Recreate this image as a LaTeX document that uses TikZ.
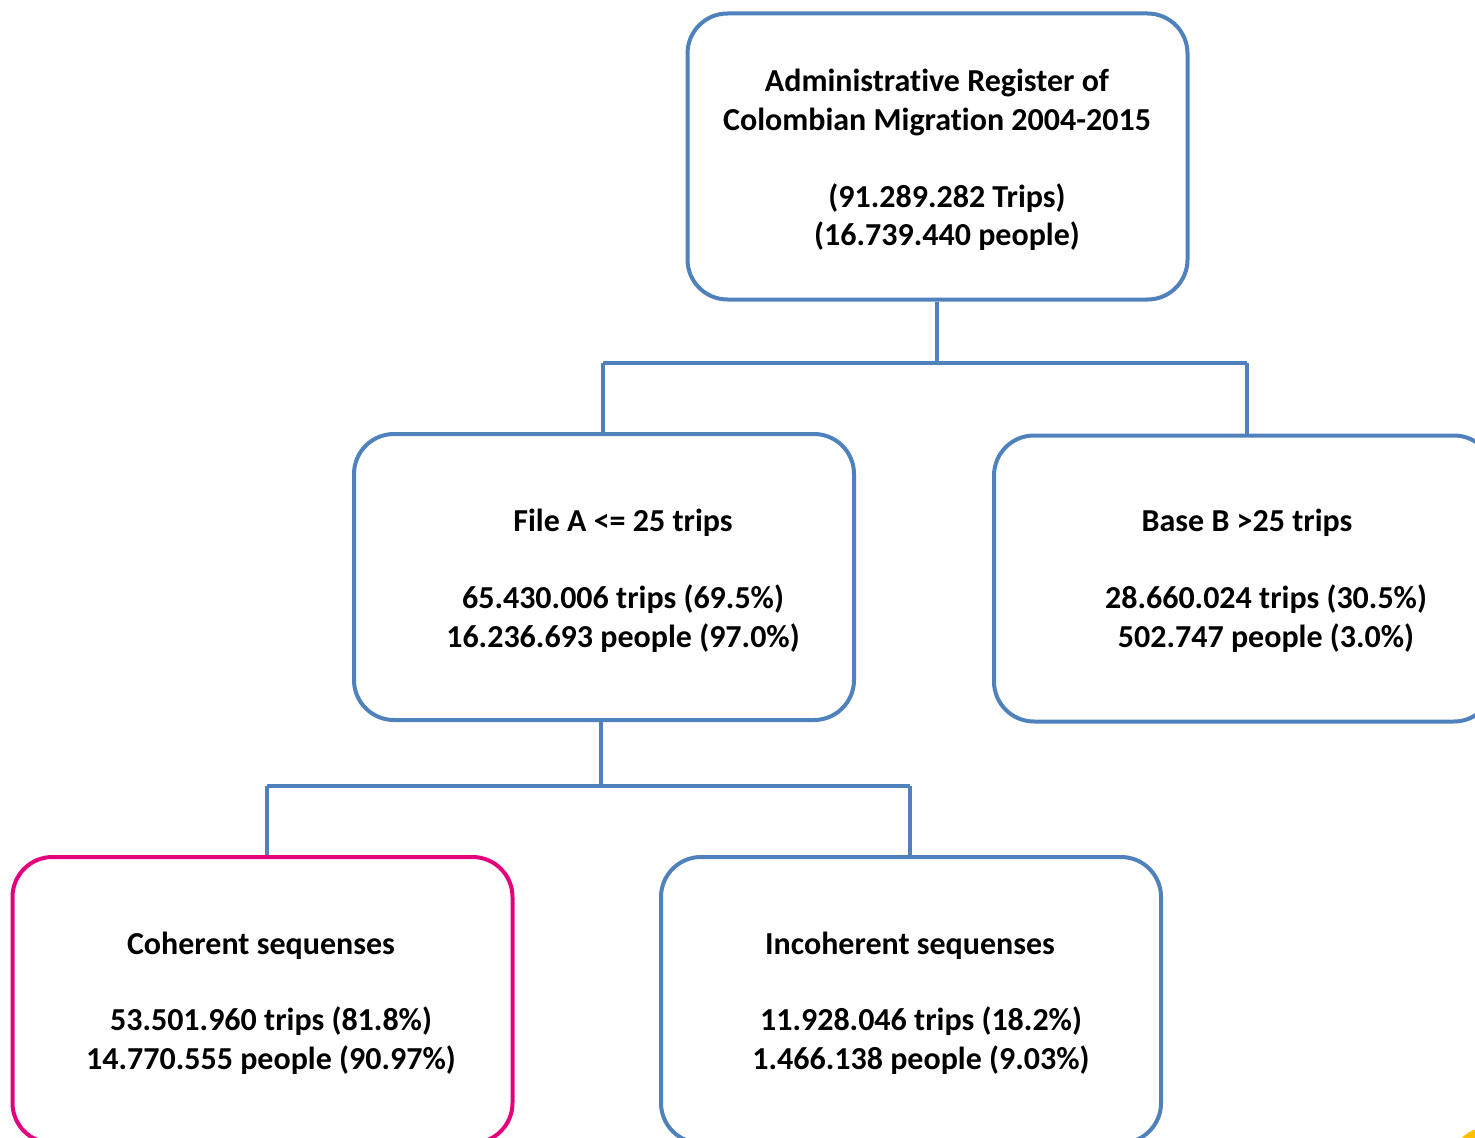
\documentclass[tikz,border=0pt]{standalone}
\usepackage{fontspec}
\setmainfont{Carlito}[RawFeature={-liga;-clig;-calt;-dlig;-rlig}]
\definecolor{boxblue}{HTML}{4F81BD}
\definecolor{boxpink}{HTML}{E4007C}
\definecolor{blobyellow}{HTML}{FFC000}
\begin{document}
\begin{tikzpicture}[x=0.75pt,y=-0.75pt,
  box/.style={draw=boxblue,line width=3pt,rounded corners=30pt,inner sep=0pt,
    minimum width=375pt,minimum height=214.5pt},
  pinkbox/.style={box,draw=boxpink},
  conn/.style={draw=boxblue,line width=3pt},
  txt/.style={font=\bfseries\fontsize{24}{29}\selectfont,anchor=base,inner sep=0pt}]
\useasboundingbox (0,0) rectangle (1475,1138);
\clip (0,0) rectangle (1475,1138);
\fill[blobyellow] (1485,1160) circle (32);
% boxes
\node[box] (top) at (937.5,156.5) {};
\node[box] (fa) at (604,577) {};
\node[box] (fb) at (1244,578.5) {};
\node[pinkbox] (coh) at (262.5,1000) {};
\node[box] (inc) at (911,1000) {};
% connectors
\coordinate (j1) at (937,363);
\coordinate (l1) at (603,363);
\coordinate (r1) at (1247,363);
\coordinate (j2) at (601,786);
\coordinate (l2) at (267,786);
\coordinate (r2) at (910,786);
\draw[conn] (j1 |- top.south) -- (j1);
\draw[conn] (l1) -- (r1);
\draw[conn] (l1) -- (l1 |- fa.north);
\draw[conn] (r1) -- (r1 |- fb.north);
\draw[conn] (j2 |- fa.south) -- (j2);
\draw[conn] (l2) -- (r2);
\draw[conn] (l2) -- (l2 |- coh.north);
\draw[conn] (r2) -- (r2 |- inc.north);
% texts
\node[txt] (t1) at (937,92) {Administrative Register of};
\node[txt] (t2) at (937,130) {Colombian Migration 2004-2015};
\node[txt] (t3) at (947,207) {(91.289.282 Trips)};
\node[txt] (t4) at (947,245) {(16.739.440 people)};
\node[txt] (a1) at (623,531) {File A <= 25 trips};
\node[txt] (a2) at (623,608) {65.430.006 trips (69.5\%)};
\node[txt] (a3) at (623,647) {16.236.693 people (97.0\%)};
\node[txt] (b1) at (1247,531) {Base B >25 trips};
\node[txt] (b2) at (1266,608) {28.660.024 trips (30.5\%)};
\node[txt] (b3) at (1266,647) {502.747 people (3.0\%)};
\node[txt] (c1) at (261,954) {Coherent sequenses};
\node[txt] (c2) at (271,1030) {53.501.960 trips (81.8\%)};
\node[txt] (c3) at (271,1069) {14.770.555 people (90.97\%)};
\node[txt] (i1) at (910,954) {Incoherent sequenses};
\node[txt] (i2) at (921,1030) {11.928.046 trips (18.2\%)};
\node[txt] (i3) at (921,1069) {1.466.138 people (9.03\%)};
\end{tikzpicture}
\end{document}
